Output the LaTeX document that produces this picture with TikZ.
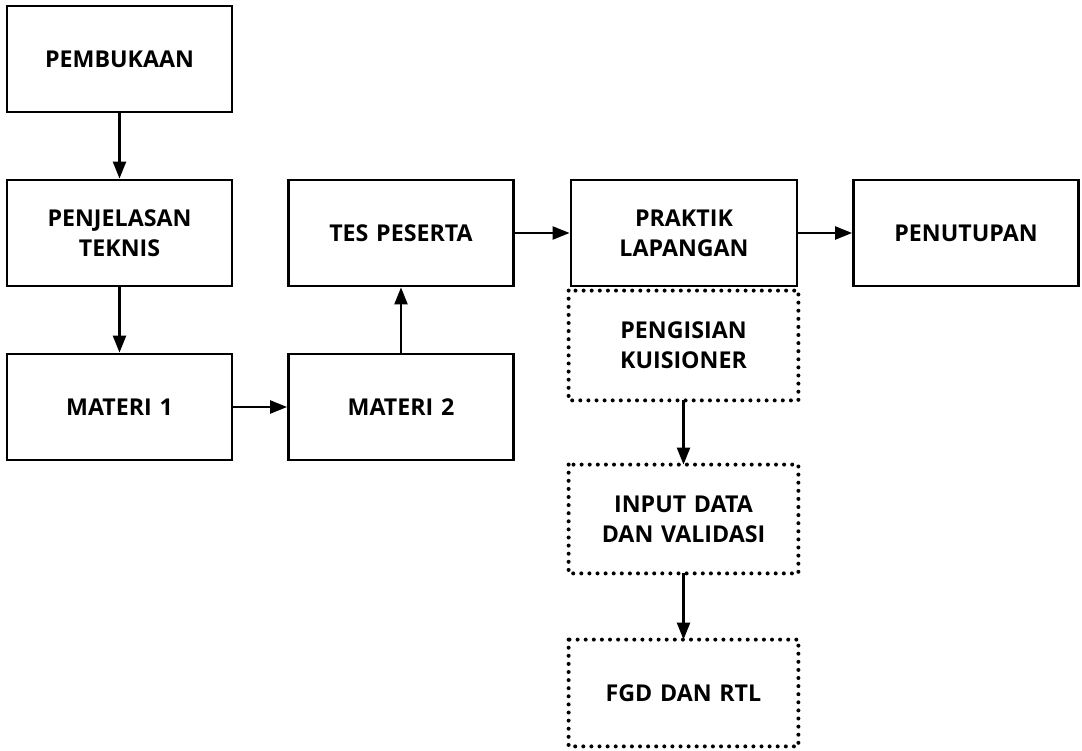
\documentclass[tikz,border=0pt]{standalone}
\usepackage{fontspec}
\setmainfont{Open Sans}
\usetikzlibrary{arrows.meta}
\tikzset{
  box/.style={draw=black, line width=2.8pt, minimum width=225pt, minimum height=106pt, inner sep=0pt, align=center, text width=215pt, font=\fontsize{23.2}{30}\selectfont\bfseries},
  conn/.style={line width=2.3pt, -{Triangle[length=17pt,width=13pt]}},
  dots/.style={line width=4pt, line cap=round, dash pattern=on 0pt off 8.1pt}
}
\begin{document}
\begin{tikzpicture}[x=1pt,y=-1pt]
\fill[white] (0,0) rectangle (1082,751);
\useasboundingbox (0,0) rectangle (1082,751);
\node[box] (pemb) at (119.5,59) {PEMBUKAAN};
\node[box] (penj) at (119.5,233) {PENJELASAN\\TEKNIS};
\node[box] (mat1) at (119.5,407) {MATERI 1};
\node[box] (mat2) at (401,407) {MATERI 2};
\node[box] (tes) at (401,233) {TES PESERTA};
\node[box, minimum width=226pt] (prak) at (684,233) {PRAKTIK\\LAPANGAN};
\node[box] (penut) at (966,233) {PENUTUPAN};
\node[box, draw=none, minimum width=227pt, minimum height=107pt] (peng) at (683.5,345.5) {PENGISIAN\\KUISIONER};
\node[box, draw=none, minimum width=227pt, minimum height=106pt] (inp) at (683.5,519) {INPUT DATA\\DAN VALIDASI};
\node[box, draw=none, minimum width=227pt, minimum height=104pt] (fgd) at (683.5,693) {FGD DAN RTL};
\foreach \n in {peng,inp,fgd}{
  \draw[dots] (\n.north west) rectangle (\n.south east);
}
\draw[conn] (pemb) -- (penj);
\draw[conn] (penj) -- (mat1);
\draw[conn] (mat1) -- (mat2);
\draw[conn] (mat2) -- (tes);
\draw[conn] (tes) -- (prak);
\draw[conn] (prak) -- (penut);
\draw[conn] (peng) -- (inp);
\draw[conn] (inp) -- (fgd);
\end{tikzpicture}
\end{document}
